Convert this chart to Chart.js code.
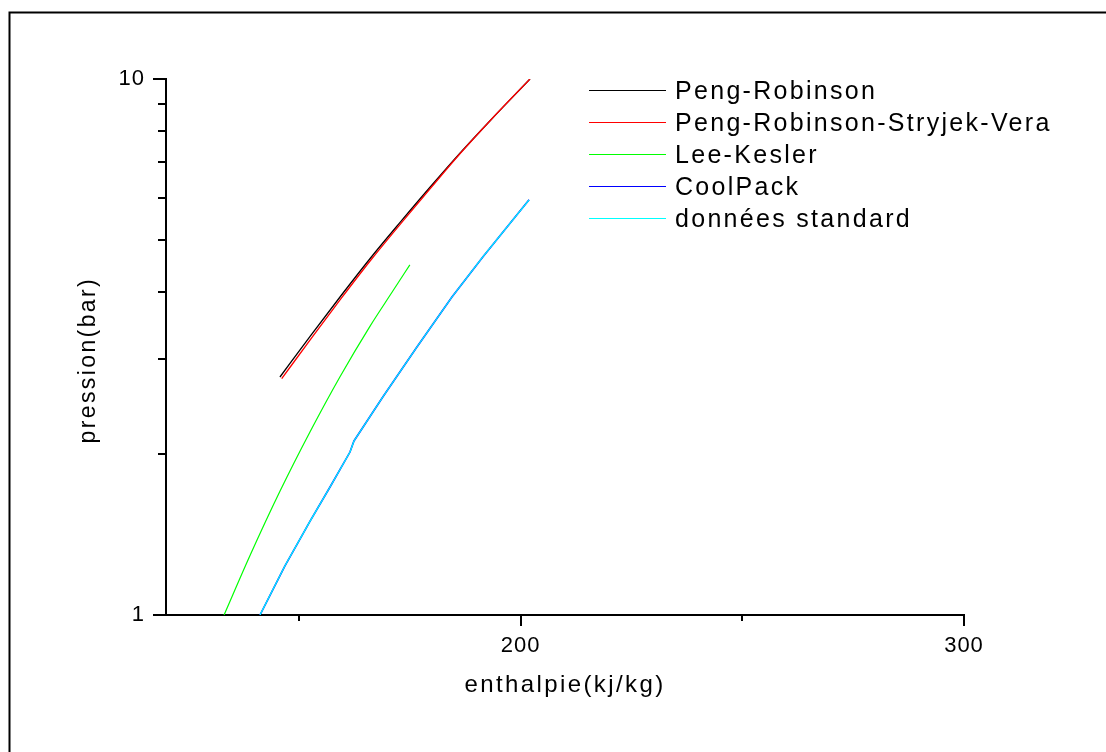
<!DOCTYPE html>
<html>
<head>
<meta charset="utf-8">
<title>pression / enthalpie</title>
<script src="https://cdn.jsdelivr.net/npm/chart.js@4/dist/chart.umd.min.js"></script>
<style>
  html, body { margin: 0; padding: 0; background: #fff; }
  canvas { display: block; }
</style>
</head>
<body>
<canvas id="myChart" width="1106" height="752"></canvas>
<script>
// series
const seriesNames = ['Peng-Robinson', 'Peng-Robinson-Stryjek-Vera', 'Lee-Kesler', 'CoolPack', 'données standard'];
const seriesColors = ['#000000', '#ff0000', '#00ff00', '#0000ff', '#00ffff'];

// enthalpie (kJ/kg) / pression (bar)
const hPR   = [145.7, 152.5, 159.25, 166.0, 172.8, 179.55, 186.3, 193.1, 202.1];
const pPR   = [2.78, 3.31, 3.92, 4.62, 5.40, 6.28, 7.27, 8.36, 10.0];
const hPRSV = [146.1, 152.85, 159.55, 166.25, 173.0, 179.7, 186.35, 193.1, 202.1];
const pPRSV = [2.76, 3.29, 3.90, 4.60, 5.38, 6.26, 7.26, 8.36, 10.0];
const hLK   = [133.1, 138.95, 145.7, 152.5, 159.25, 166.0, 171.2, 175.0];
const pLK   = [1.0, 1.291, 1.701, 2.197, 2.783, 3.456, 4.026, 4.50];
const hCP   = [141.2, 146.8, 152.5, 157.0, 161.5, 162.4, 168.9, 176.6, 184.5, 191.5, 201.9];
const pCP   = [1.0, 1.234, 1.497, 1.733, 2.014, 2.112, 2.551, 3.162, 3.92, 4.66, 5.95];
const hStd  = [141.2, 146.8, 152.5, 157.0, 161.5, 162.4, 168.9, 176.6, 184.5, 191.5, 201.9];
const pStd  = [1.0, 1.234, 1.497, 1.733, 2.014, 2.112, 2.551, 3.162, 3.92, 4.66, 5.95];

// axes
const xMin = 120, xMax = 300;
const xTickLabels = [200, 300];
const xMinorTicks = [150, 250];
const yTickLabels = [1, 10];
const yMinorTicks = [2, 3, 4, 5, 6, 7, 8, 9];

const FONT = "'Liberation Sans', Arial, sans-serif";

function pts(h, p) {
  return h.map((v, i) => ({ x: v, y: p[i] }));
}

const seriesH = [hPR, hPRSV, hLK, hCP, hStd];
const seriesP = [pPR, pPRSV, pLK, pCP, pStd];
const drawOrder = [5, 4, 3, 2, 1];
const lineWidths = [1.3, 1.3, 1.2, 1.6, 1.2];

const datasets = seriesNames.map((name, i) => ({
  label: name,
  data: pts(seriesH[i], seriesP[i]),
  borderColor: seriesColors[i],
  backgroundColor: seriesColors[i],
  borderWidth: lineWidths[i],
  showLine: true,
  pointRadius: 0,
  cubicInterpolationMode: i < 3 ? 'monotone' : 'default',
  tension: 0,
  order: drawOrder[i]
}));

// cadre, graduations et légende
const decor = {
  id: 'decor',
  beforeDraw(chart) {
    const ctx = chart.ctx;
    ctx.save();
    ctx.strokeStyle = '#000';
    ctx.lineWidth = 2;
    ctx.strokeRect(9.5, 12.5, 3000, 3000);
    ctx.restore();
    ctx.letterSpacing = '2.4px'; // titres des axes
  },
  afterDatasetsDraw(chart) {
    chart.ctx.letterSpacing = '1px'; // etiquettes
  },
  afterDraw(chart) {
    const ctx = chart.ctx;
    const xs = chart.scales.x, ys = chart.scales.y;
    const area = chart.chartArea;
    ctx.save();
    ctx.strokeStyle = '#000';
    ctx.lineWidth = 2;
    ctx.beginPath();
    xTickLabels.forEach(v => {
      const px = Math.round(xs.getPixelForValue(v));
      ctx.moveTo(px, area.bottom); ctx.lineTo(px, area.bottom + 11);
    });
    xMinorTicks.forEach(v => {
      const px = Math.round(xs.getPixelForValue(v));
      ctx.moveTo(px, area.bottom); ctx.lineTo(px, area.bottom + 6);
    });
    yTickLabels.forEach(v => {
      const py = Math.round(ys.getPixelForValue(v));
      ctx.moveTo(area.left - 13, py); ctx.lineTo(area.left, py);
    });
    yMinorTicks.forEach(v => {
      const py = Math.round(ys.getPixelForValue(v));
      ctx.moveTo(area.left - 8, py); ctx.lineTo(area.left, py);
    });
    ctx.stroke();

    // legende
    ctx.letterSpacing = '2.3px';
    ctx.font = '25px ' + FONT;
    ctx.fillStyle = '#000';
    ctx.textBaseline = 'alphabetic';
    ctx.textAlign = 'left';
    chart.data.datasets.forEach((ds, i) => {
      const y = area.top + 11 + i * 32;
      ctx.strokeStyle = ds.borderColor;
      ctx.lineWidth = 1;
      ctx.beginPath();
      ctx.moveTo(area.left + 423, y + 0.5);
      ctx.lineTo(area.left + 500, y + 0.5);
      ctx.stroke();
      ctx.fillText(ds.label, area.left + 509, y + 9);
    });
    ctx.restore();
    ctx.letterSpacing = '0px';
  }
};

Chart.defaults.color = '#000';
Chart.defaults.font.family = FONT;

const ctx = document.getElementById('myChart').getContext('2d');
const chart = new Chart(ctx, {
  type: 'scatter',
  data: { datasets },
  options: {
    responsive: false,
    animation: false,
    layout: { padding: { left: 0, top: 79, right: 142, bottom: 0 } },
    plugins: { legend: { display: false }, tooltip: { enabled: false } },
    scales: {
      x: {
        type: 'linear',
        min: xMin,
        max: xMax,
        grid: { display: false, drawTicks: false },
        border: { display: true, color: '#000', width: 2 },
        ticks: {
          stepSize: 50,
          autoSkip: false,
          maxRotation: 0,
          padding: 18,
          z: 1,
          color: '#000',
          font: { size: 22, family: FONT },
          callback: v => xTickLabels.includes(v) ? String(v) : ''
        },
        title: {
          display: true,
          text: 'enthalpie(kj/kg)',
          color: '#000',
          font: { size: 24, family: FONT },
          padding: { top: 0, bottom: 52 }
        },
        afterFit(scale) { scale.height = 137; }
      },
      y: {
        type: 'logarithmic',
        min: 1,
        max: 10,
        grid: { display: false, drawTicks: false },
        border: { display: true, color: '#000', width: 2 },
        ticks: {
          autoSkip: false,
          padding: 21,
          z: 1,
          color: '#000',
          font: { size: 22, family: FONT },
          callback: v => yTickLabels.includes(v) ? String(v) : ''
        },
        title: {
          display: true,
          text: 'pression(bar)   ',
          color: '#000',
          font: { size: 23, family: FONT },
          padding: { top: 75, bottom: 0 }
        },
        afterFit(scale) { scale.width = 166; }
      }
    }
  },
  plugins: [decor]
});
</script>
</body>
</html>
